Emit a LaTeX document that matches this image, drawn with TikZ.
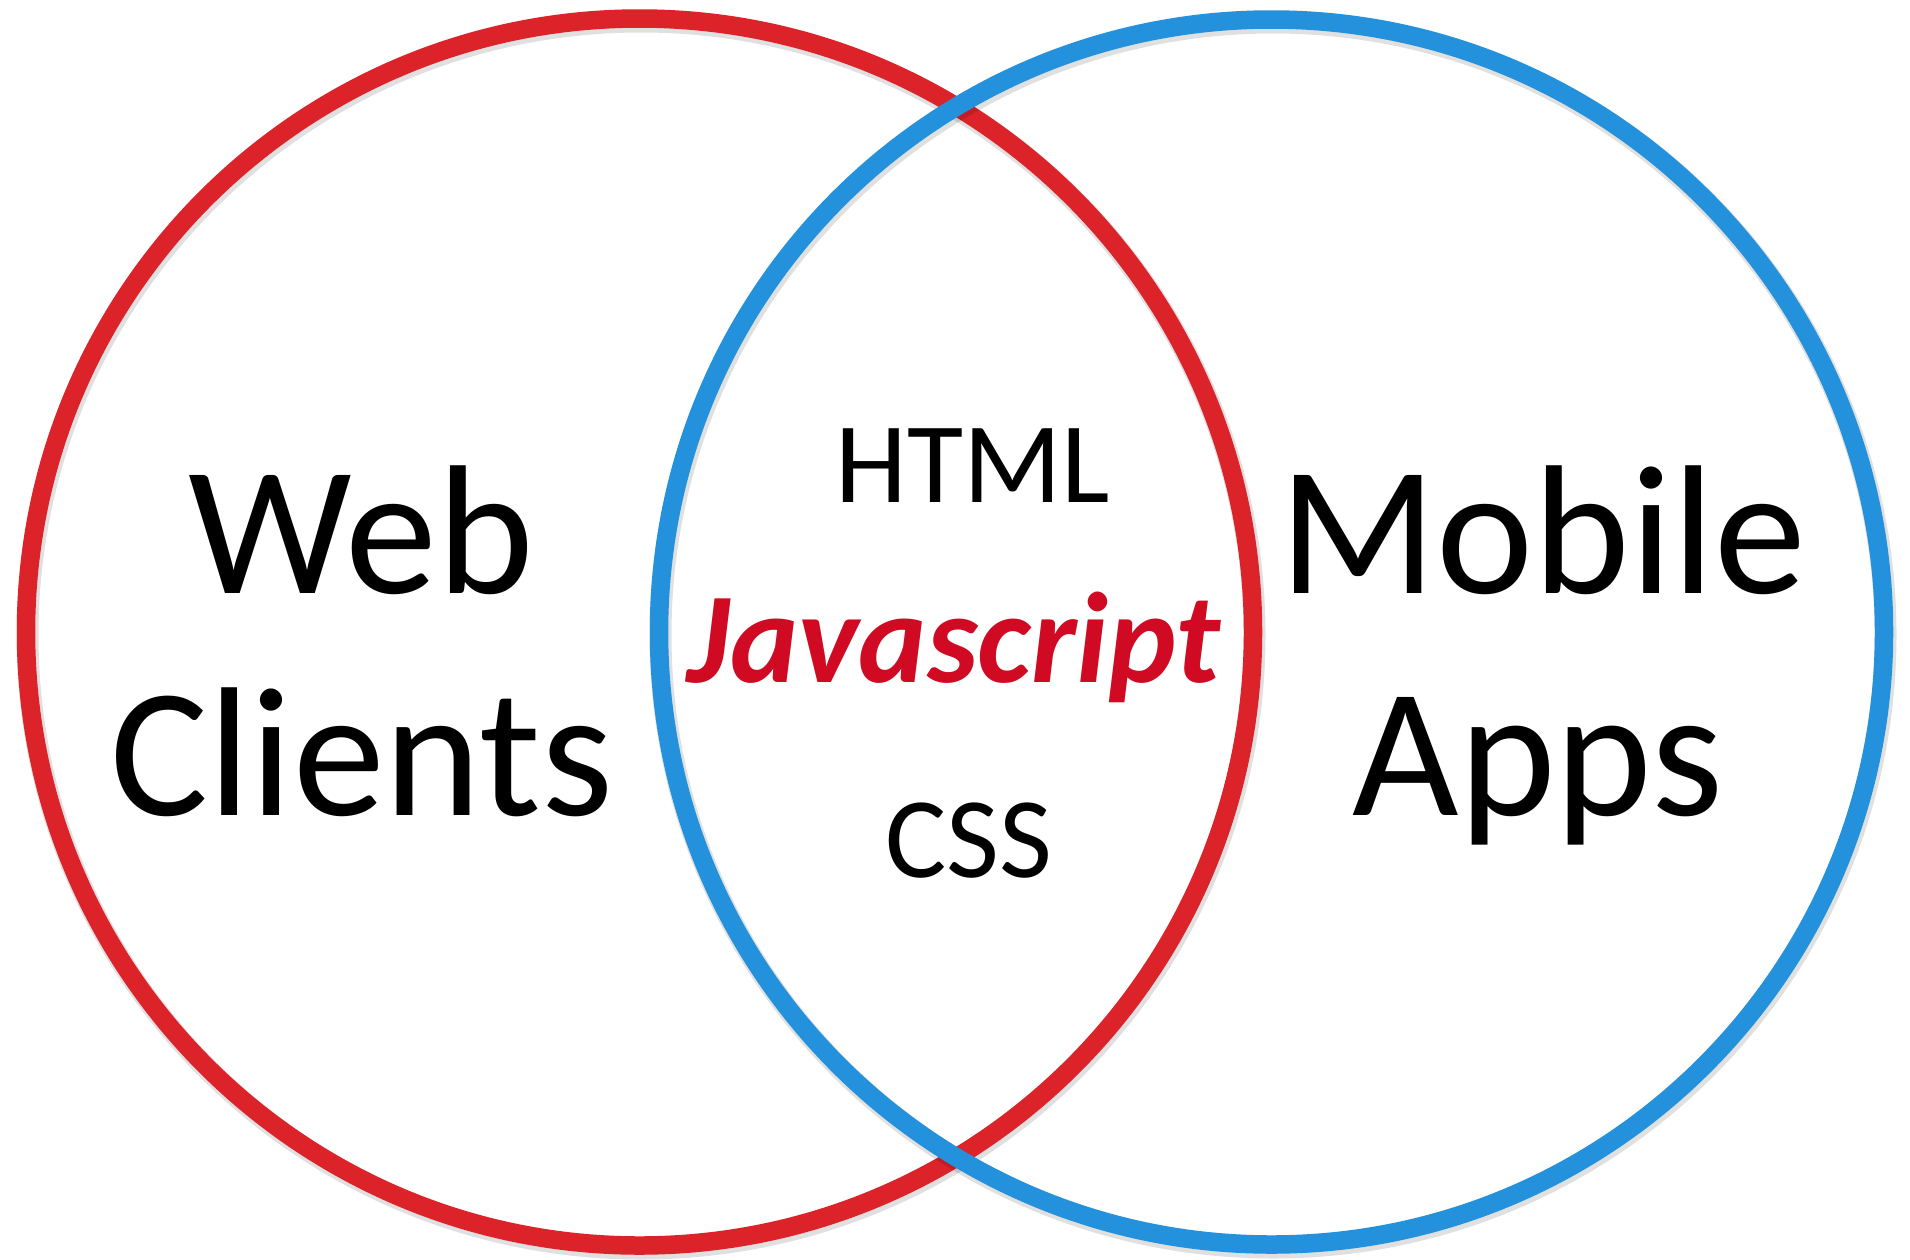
\documentclass[tikz,border=0pt]{standalone}
\usepackage{fontspec}
\setmainfont{Carlito}
\definecolor{ringred}{RGB}{220,35,42}
\definecolor{ringblue}{RGB}{35,145,220}
\definecolor{jsred}{RGB}{208,10,34}
\begin{document}
\begin{tikzpicture}[x=1pt,y=-1pt,
  ring/.style={line width=18.5pt},
  ringshadow/.style={line width=22pt,draw=black,opacity=0.12},
  bigtxt/.style={anchor=base,font=\fontsize{184}{184}\selectfont,inner sep=0pt},
  midtxt/.style={anchor=base,font=\fontsize{115}{115}\selectfont,inner sep=0pt},
  jstxt/.style={anchor=base,font=\fontsize{129}{129}\selectfont\bfseries\itshape,text=jsred,inner sep=0pt}]
\useasboundingbox (0,0) rectangle (1910,1259);
\fill[white] (0,0) rectangle (1910,1259);
% web circle
\draw[ringshadow] (641,635) circle (613.5);
\draw[ring,draw=ringred] (639.5,632) circle (613.5);
% mobile circle
\draw[ringshadow] (1273,635) circle (612.5);
\draw[ring,draw=ringblue] (1271.5,632) circle (612.5);
% labels
\node[bigtxt] (web) at (361,593) {Web};
\node[bigtxt] (clients) at (362,815) {Clients};
\node[bigtxt] (mobile) at (1543,593) {Mobile};
\node[bigtxt] (apps) at (1538,815) {Apps};
\node[midtxt] (html) at (973,502) {HTML};
\node[jstxt] (js) at (954,682) {Javascript};
\node[midtxt] (css) at (969,877) {CSS};
\end{tikzpicture}
\end{document}
